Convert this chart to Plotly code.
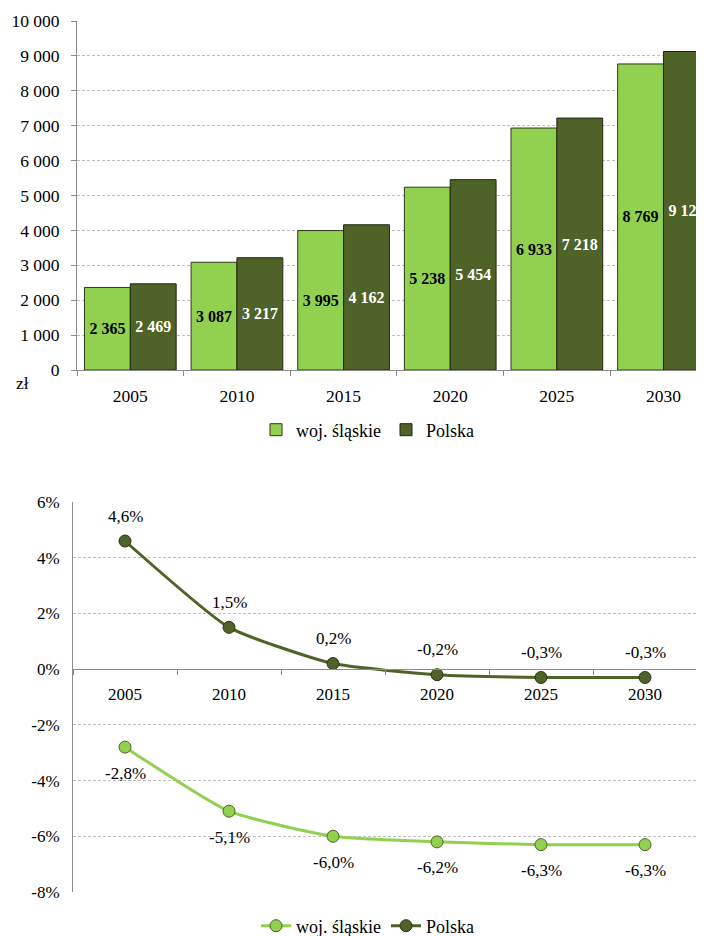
import plotly.graph_objects as go

# dane
years = ["2005", "2010", "2015", "2020", "2025", "2030"]
wynagr_slaskie = [2365, 3087, 3995, 5238, 6933, 8769]
wynagr_polska = [2469, 3217, 4162, 5454, 7218, 9126]
dyn_slaskie = [-2.8, -5.1, -6.0, -6.2, -6.3, -6.3]
dyn_polska = [4.6, 1.5, 0.2, -0.2, -0.3, -0.3]
names = ["woj. śląskie", "Polska"]
y1_ticks = list(range(0, 10001, 1000))
y1_labels = [f"{v:,}".replace(",", " ") for v in y1_ticks]
y2_ticks = list(range(-8, 7, 2))
y2_labels = [f"{v}%" for v in y2_ticks]

LIGHT = "#92D050"
DARK = "#4F6228"
GRID = "#BFBFBF"
AXIS = "#8C8C8C"
FONT = "Liberation Serif"
OFF = 8                      # margines <body> w html
W, H = 704 - OFF, 936 - OFF


def px_x(p):
    return (p - OFF) / W


def px_y(p):
    return 1 - (p - OFF) / H


def fmt_num(v):
    return f"{v:,}".replace(",", " ")


def fmt_pct(v):
    return f"{v:.1f}%".replace(".", ",")


def tfont(size):
    return dict(family=FONT, size=size, color="black")


fig = go.Figure()

# słupki – przeciętne wynagrodzenie
fig.add_trace(go.Bar(
    x=years, y=wynagr_slaskie, name=names[0],
    marker=dict(color=LIGHT, line=dict(color="#2E3A17", width=1)),
    text=[fmt_num(v) for v in wynagr_slaskie], textposition="inside",
    insidetextanchor="middle", textangle=0, constraintext="none",
    textfont=dict(family=FONT, size=16, color="black", weight="bold"),
    xaxis="x", yaxis="y", legend="legend",
))
fig.add_trace(go.Bar(
    x=years, y=wynagr_polska, name=names[1],
    marker=dict(color=DARK, line=dict(color="#1F2810", width=1)),
    text=[fmt_num(v) for v in wynagr_polska], textposition="inside",
    insidetextanchor="middle", textangle=0, constraintext="none",
    textfont=dict(family=FONT, size=16, color="white", weight="bold"),
    xaxis="x", yaxis="y", legend="legend",
))

# linie – dynamika
fig.add_trace(go.Scatter(
    x=years, y=dyn_slaskie, name=names[0], mode="lines+markers",
    line=dict(color=LIGHT, width=3, shape="spline", smoothing=0.5),
    marker=dict(size=12, color=LIGHT, line=dict(color="#4F6228", width=1)),
    xaxis="x2", yaxis="y2", legend="legend2",
))
fig.add_trace(go.Scatter(
    x=years, y=dyn_polska, name=names[1], mode="lines+markers",
    line=dict(color=DARK, width=3, shape="spline", smoothing=0.5),
    marker=dict(size=12, color=DARK, line=dict(color="#2B3514", width=1)),
    xaxis="x2", yaxis="y2", legend="legend2",
))

# etykiety procentowe (indeks kategorii, bo "2005" byłoby liczbą)
annotations = []
for i, v in enumerate(dyn_polska):
    annotations.append(dict(x=i, y=v, xref="x2", yref="y2", text=fmt_pct(v),
                            showarrow=False, yshift=25, xanchor="center",
                            font=tfont(17)))
for i, v in enumerate(dyn_slaskie):
    annotations.append(dict(x=i, y=v, xref="x2", yref="y2", text=fmt_pct(v),
                            showarrow=False, yshift=-26, xanchor="center",
                            font=tfont(17)))
annotations.append(dict(x=px_x(22), y=px_y(383), xref="paper", yref="paper",
                        text="zł", showarrow=False, xanchor="center",
                        yanchor="middle", font=tfont(17.5)))

fig.update_layout(
    width=W, height=H,
    margin=dict(l=0, r=0, t=0, b=0, autoexpand=False),
    paper_bgcolor="white", plot_bgcolor="white",
    font=tfont(17),
    barmode="group", bargap=0.14, bargroupgap=0,
    showlegend=True,
    annotations=annotations,
    xaxis=dict(domain=[px_x(77), 1], anchor="y", type="category",
               range=[-0.5, 5.38], showline=True, linecolor=AXIS,
               ticks="outside", tickson="boundaries", ticklen=5, tickcolor=AXIS,
               showgrid=False, ticklabelstandoff=10, tickfont=tfont(17.5),
               automargin=False),
    yaxis=dict(domain=[px_y(370), px_y(21)], anchor="x", range=[0, 10000],
               tickvals=y1_ticks, ticktext=y1_labels, showline=True,
               linecolor=AXIS, ticks="outside", ticklen=5, tickcolor=AXIS,
               showgrid=True, gridcolor=GRID, griddash="3px,2px",
               zeroline=False, ticklabelstandoff=8, tickfont=tfont(17.5),
               automargin=False),
    xaxis2=dict(domain=[px_x(73), px_x(697)], anchor="free",
                position=px_y(669), type="category", range=[-0.5, 5.5],
                showline=True, linecolor=AXIS, ticks="outside",
                tickson="boundaries", ticklen=5, tickcolor=AXIS,
                showgrid=False, ticklabelstandoff=10, tickfont=tfont(17),
                automargin=False),
    yaxis2=dict(domain=[px_y(892), px_y(502)], anchor="x2", range=[-8, 6],
                tickvals=y2_ticks, ticktext=y2_labels, showline=True,
                linecolor=AXIS, ticks="", showgrid=True, gridcolor=GRID,
                griddash="3px,2px", zeroline=False, ticklabelstandoff=9,
                tickfont=tfont(17), automargin=False),
    legend=dict(orientation="h", x=px_x(368), xanchor="center",
                y=px_y(430), yanchor="middle", font=tfont(18),
                bgcolor="rgba(0,0,0,0)"),
    legend2=dict(orientation="h", x=px_x(368), xanchor="center",
                 y=px_y(926), yanchor="middle", font=tfont(18),
                 bgcolor="rgba(0,0,0,0)"),
)

fig.write_html("out.html")
